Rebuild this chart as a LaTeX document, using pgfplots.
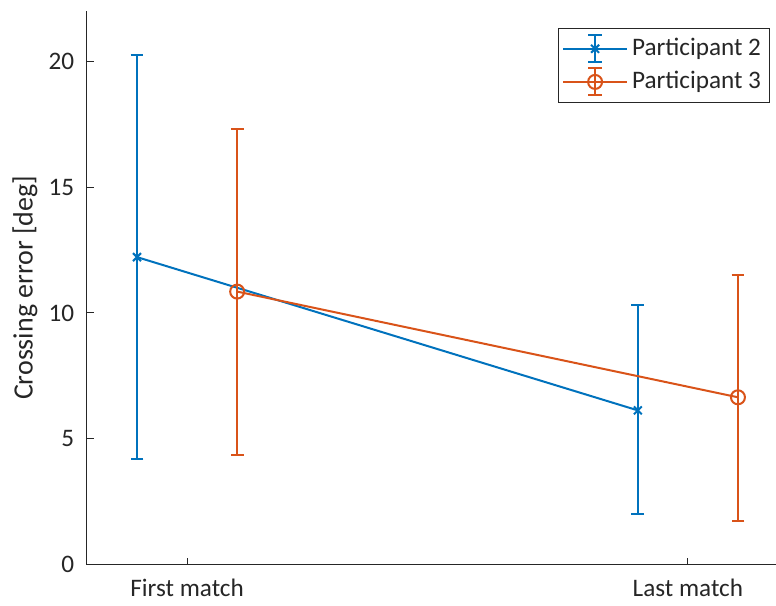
\documentclass[border=0pt]{standalone}
\usepackage{pgfplots}
\pgfplotsset{compat=1.18}
\usepackage{fontspec}
\setmainfont{Carlito}
\definecolor{mblue}{RGB}{0,114,189}
\definecolor{morange}{RGB}{217,83,25}
\definecolor{axgray}{RGB}{38,38,38}
\begin{document}
\fontsize{12.6}{15}\selectfont
\begin{tikzpicture}
\begin{axis}[
  scale only axis,
  width=344.5pt, height=277pt,
  xmin=0.8, xmax=2.175,
  ymin=0, ymax=22,
  axis lines=left,
  axis line style={-, axgray, line width=0.5pt},
  xtick={1,2}, xticklabels={First match, Last match},
  ytick={0,5,10,15,20},
  tick align=inside,
  major tick length=3.5pt,
  tick style={axgray, line width=0.5pt},
  ticklabel style={font=\fontsize{12.6}{15}\selectfont, text=axgray},
  /pgf/number format/assume math mode=true,
  xticklabel style={yshift=-3pt},
  yticklabel style={xshift=-2pt},
  ylabel={Crossing error [deg]},
  ylabel style={font=\fontsize{14}{16}\selectfont, text=axgray,
    at={([xshift=-31pt]axis description cs:0,0.5)}, anchor=center},
  legend style={
    at={(axis description cs:0.9913,0.969)}, anchor=north east,
    draw=axgray, line width=0.5pt, fill=white,
    font=\fontsize{12.6}{15}\selectfont, text=axgray,
    inner xsep=2pt, inner ysep=2.75pt,
    row sep=2pt,
    legend cell align=left,
  },
  legend image code/.code={
    \draw[mark repeat=2, mark phase=2, #1] plot coordinates {(0pt,0pt)(16pt,0pt)(32pt,0pt)};
    \draw[#1, mark=none] (16pt,-6.75pt) -- (16pt,6.75pt)
      (12.5pt,-6.75pt) -- (19.5pt,-6.75pt)
      (12.5pt,6.75pt) -- (19.5pt,6.75pt);
  },
]
\coordinate (O) at (rel axis cs:0,0);
\addplot[mblue, line width=1pt, mark=x, mark size=2.8pt,
  mark options={line width=1pt},
  error bars/.cd, y dir=both, y explicit,
  error mark options={mblue, line width=1pt, mark size=3.2pt, rotate=90},
  error bar style={line width=1pt}]
  coordinates {
    (0.9,12.22) += (0,8.03) -= (0,8.02)
    (1.9,6.13)  += (0,4.17) -= (0,4.13)
  };
\addlegendentry{Participant 2}
\addplot[morange, line width=1pt, mark=o, mark size=3.5pt,
  mark options={line width=1pt},
  error bars/.cd, y dir=both, y explicit,
  error mark options={morange, line width=1pt, mark size=3.2pt, rotate=90},
  error bar style={line width=1pt}]
  coordinates {
    (1.1,10.85) += (0,6.45) -= (0,6.50)
    (2.1,6.65)  += (0,4.85) -= (0,4.90)
  };
\addlegendentry{Participant 3}
\end{axis}
\path ([yshift=5.5pt]current axis.north west);
\path ([xshift=-43.5pt]O);
\end{tikzpicture}
\end{document}
